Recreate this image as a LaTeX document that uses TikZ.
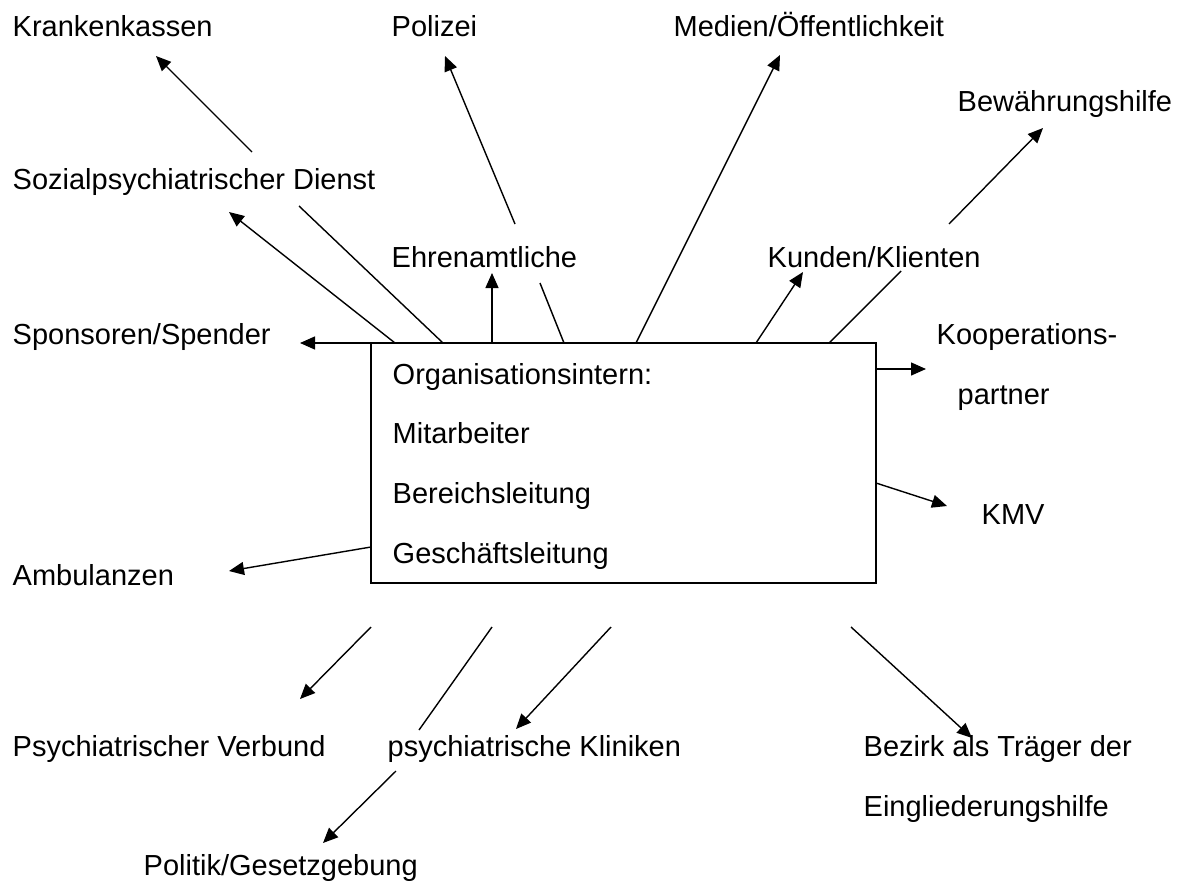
\documentclass[tikz,border=0pt]{standalone}
\usepackage{fontspec}
\setmainfont{Liberation Sans}
\usetikzlibrary{arrows.meta}

\begin{document}
\begin{tikzpicture}[x=1pt,y=-1pt,line width=1.4pt,
    lbl/.style={anchor=base west,inner sep=0pt,font=\fontsize{29}{34}\selectfont},
    pfeil/.style={-{Triangle[length=15pt,width=13pt]}}]
        \useasboundingbox(0,0)rectangle(1179,884);

        % Organisation in der Mitte
        \draw(371,343)rectangle(876,583);
        \coordinate(nw)at(371,343);
        \node[lbl](org)at(392,384){Organisationsintern:};
        \node[lbl](mit)at(392,443){Mitarbeiter};
        \node[lbl](ber)at(392,503){Bereichsleitung};
        \node[lbl](ges)at(392,563){Geschäftsleitung};

        % Umfeld
        \node[lbl](kk)at(12,36){Krankenkassen};
        \node[lbl](pol)at(391,36){Polizei};
        \node[lbl](med)at(673,36){Medien/Öffentlichkeit};
        \node[lbl](bew)at(957,111){Bewährungshilfe};
        \node[lbl](spd)at(12,189){Sozialpsychiatrischer Dienst};
        \node[lbl](ehr)at(391,267){Ehrenamtliche};
        \node[lbl](kun)at(767,267){Kunden/Klienten};
        \node[lbl](spo)at(12,344){Sponsoren/Spender};
        \node[lbl](koo)at(936,344){Kooperations-};
        \node[lbl](par)at(957,404){partner};
        \node[lbl](kmv)at(981,524){KMV};
        \node[lbl](amb)at(12,585){Ambulanzen};
        \node[lbl](ver)at(12,756){Psychiatrischer Verbund};
        \node[lbl](kli)at(387,756){psychiatrische Kliniken};
        \node[lbl](bez)at(863,756){Bezirk als Träger der};
        \node[lbl](ein)at(863,816){Eingliederungshilfe};
        \node[lbl](gesetz)at(143,875){Politik/Gesetzgebung};

        % Pfeile nach oben
        \coordinate(a1)at(252,152);\coordinate(b1)at(156,56);
        \coordinate(a2)at(395,343);\coordinate(b2)at(229,212);
        \coordinate(a3)at(443,343);\coordinate(b3)at(299,206);
        \coordinate(b4)at(300,343);
        \coordinate(a5)at(492,343);\coordinate(b5)at(492,273);
        \coordinate(a6)at(564,343);\coordinate(b6)at(540,283);
        \coordinate(a7)at(515,224);\coordinate(b7)at(445,56);
        \coordinate(a8)at(636,343);\coordinate(b8)at(780,55);
        \coordinate(a9)at(949,224);\coordinate(b9)at(1043,128);
        \coordinate(a10)at(756,343);\coordinate(b10)at(803,272);
        \coordinate(a11)at(829,343);\coordinate(b11)at(901,271);
        \draw[pfeil](a1)--(b1);
        \draw[pfeil](a2)--(b2);
        \draw(a3)--(b3);
        \draw[pfeil](nw)--(b4);
        \draw[pfeil](a5)--(b5);
        \draw(a6)--(b6);
        \draw[pfeil](a7)--(b7);
        \draw[pfeil](a8)--(b8);
        \draw[pfeil](a9)--(b9);
        \draw[pfeil](a10)--(b10);
        \draw(a11)--(b11);

        % Pfeile rechts, links und unten
        \coordinate(a12)at(876,369);\coordinate(b12)at(926,369);
        \coordinate(a13)at(876,483);\coordinate(b13)at(947,506);
        \coordinate(a14)at(851,627);\coordinate(b14)at(972,738);
        \coordinate(a15)at(371,547);\coordinate(b15)at(229,571);
        \coordinate(a16)at(371,627);\coordinate(b16)at(300,699);
        \coordinate(a17)at(492,627);\coordinate(b17)at(419,730);
        \coordinate(a18)at(396,771);\coordinate(b18)at(323,843);
        \coordinate(a19)at(611,627);\coordinate(b19)at(516,729);
        \draw[pfeil](a12)--(b12);
        \draw[pfeil](a13)--(b13);
        \draw[pfeil](a14)--(b14);
        \draw[pfeil](a15)--(b15);
        \draw[pfeil](a16)--(b16);
        \draw(a17)--(b17);
        \draw[pfeil](a18)--(b18);
        \draw[pfeil](a19)--(b19);
    \end{tikzpicture}
\end{document}
